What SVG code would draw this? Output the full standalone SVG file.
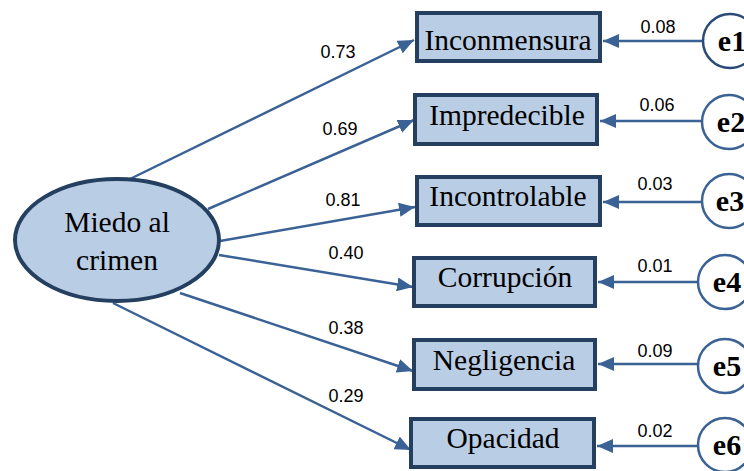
<svg xmlns="http://www.w3.org/2000/svg" width="744" height="471" viewBox="0 0 744 471">
<defs>
<marker id="ah" markerUnits="userSpaceOnUse" markerWidth="16" markerHeight="14" refX="16" refY="7" orient="auto">
<path d="M0,0 L16,7 L0,14 z" fill="#3a6295"/>
</marker>
<style>
.box{fill:#b9cde5;stroke:#243f60;stroke-width:4}
.lat{fill:#b9cde5;stroke:#243f60;stroke-width:4}
.err{fill:#ffffff;stroke:#3a6295;stroke-width:2.5}
.lbl{font-family:"Liberation Serif","Times New Roman",serif;font-size:29.5px;fill:#000;text-anchor:middle}
.elbl{font-family:"Liberation Serif","Times New Roman",serif;font-size:30px;font-weight:bold;fill:#000;text-anchor:middle}
.num{font-family:"Liberation Sans",Arial,sans-serif;font-size:18px;fill:#000;text-anchor:middle}
.con{stroke:#3a6295;stroke-width:2.5;fill:none;marker-end:url(#ah)}
</style>
</defs>
<rect width="744" height="471" fill="#ffffff"/>
<g id="connectors">
<line class="con" x1="130" y1="179" x2="414" y2="40"/>
<line class="con" x1="208" y1="209" x2="414" y2="120"/>
<line class="con" x1="220" y1="241" x2="415" y2="207"/>
<line class="con" x1="219" y1="255" x2="413" y2="287"/>
<line class="con" x1="180" y1="293" x2="413" y2="371"/>
<line class="con" x1="113" y1="303" x2="411" y2="450"/>
<line class="con" x1="703" y1="41" x2="603" y2="41"/>
<line class="con" x1="702" y1="121" x2="600" y2="121"/>
<line class="con" x1="702" y1="202" x2="603" y2="202"/>
<line class="con" x1="698" y1="282" x2="598" y2="282"/>
<line class="con" x1="698" y1="364" x2="598" y2="364"/>
<line class="con" x1="698" y1="446" x2="597" y2="446"/>
<text class="num" x="338" y="58">0.73</text>
<text class="num" x="340" y="135">0.69</text>
<text class="num" x="343" y="206">0.81</text>
<text class="num" x="346" y="259">0.40</text>
<text class="num" x="346" y="334">0.38</text>
<text class="num" x="346" y="402">0.29</text>
<text class="num" x="658" y="33">0.08</text>
<text class="num" x="657" y="111">0.06</text>
<text class="num" x="655" y="190">0.03</text>
<text class="num" x="655" y="272">0.01</text>
<text class="num" x="655" y="357">0.09</text>
<text class="num" x="655" y="437">0.02</text>
</g>
<g id="latent">
<ellipse class="lat" cx="117" cy="240" rx="102" ry="61"/>
<text class="lbl" x="117" y="232">Miedo al</text>
<text class="lbl" x="117" y="270">crimen</text>
</g>
<g id="inconmensura"><rect class="box" x="417" y="13" width="183" height="48"/><text class="lbl" x="508" y="50">Inconmensura</text></g>
<g id="impredecible"><rect class="box" x="415" y="95" width="182" height="49"/><text class="lbl" x="507" y="125">Impredecible</text></g>
<g id="incontrolable"><rect class="box" x="417" y="177" width="183" height="48"/><text class="lbl" x="508" y="206">Incontrolable</text></g>
<g id="corrupcion"><rect class="box" x="414" y="258" width="181" height="48"/><text class="lbl" x="505" y="287">Corrupción</text></g>
<g id="negligencia"><rect class="box" x="414" y="340" width="181" height="49"/><text class="lbl" x="504" y="370">Negligencia</text></g>
<g id="opacidad"><rect class="box" x="411" y="419" width="183" height="48"/><text class="lbl" x="503" y="448">Opacidad</text></g>
<g id="e1"><circle class="err" cx="730" cy="41" r="27" style="stroke:#2a4a78"/><text class="elbl" x="732" y="51">e1</text></g>
<g id="e2"><circle class="err" cx="729" cy="122" r="27"/><text class="elbl" x="731" y="132">e2</text></g>
<g id="e3"><circle class="err" cx="729" cy="201" r="27"/><text class="elbl" x="730" y="211">e3</text></g>
<g id="e4"><circle class="err" cx="725" cy="282" r="27"/><text class="elbl" x="727" y="292">e4</text></g>
<g id="e5"><circle class="err" cx="725" cy="366" r="27"/><text class="elbl" x="727" y="376">e5</text></g>
<g id="e6"><circle class="err" cx="725" cy="445" r="27"/><text class="elbl" x="727" y="455">e6</text></g>
</svg>
